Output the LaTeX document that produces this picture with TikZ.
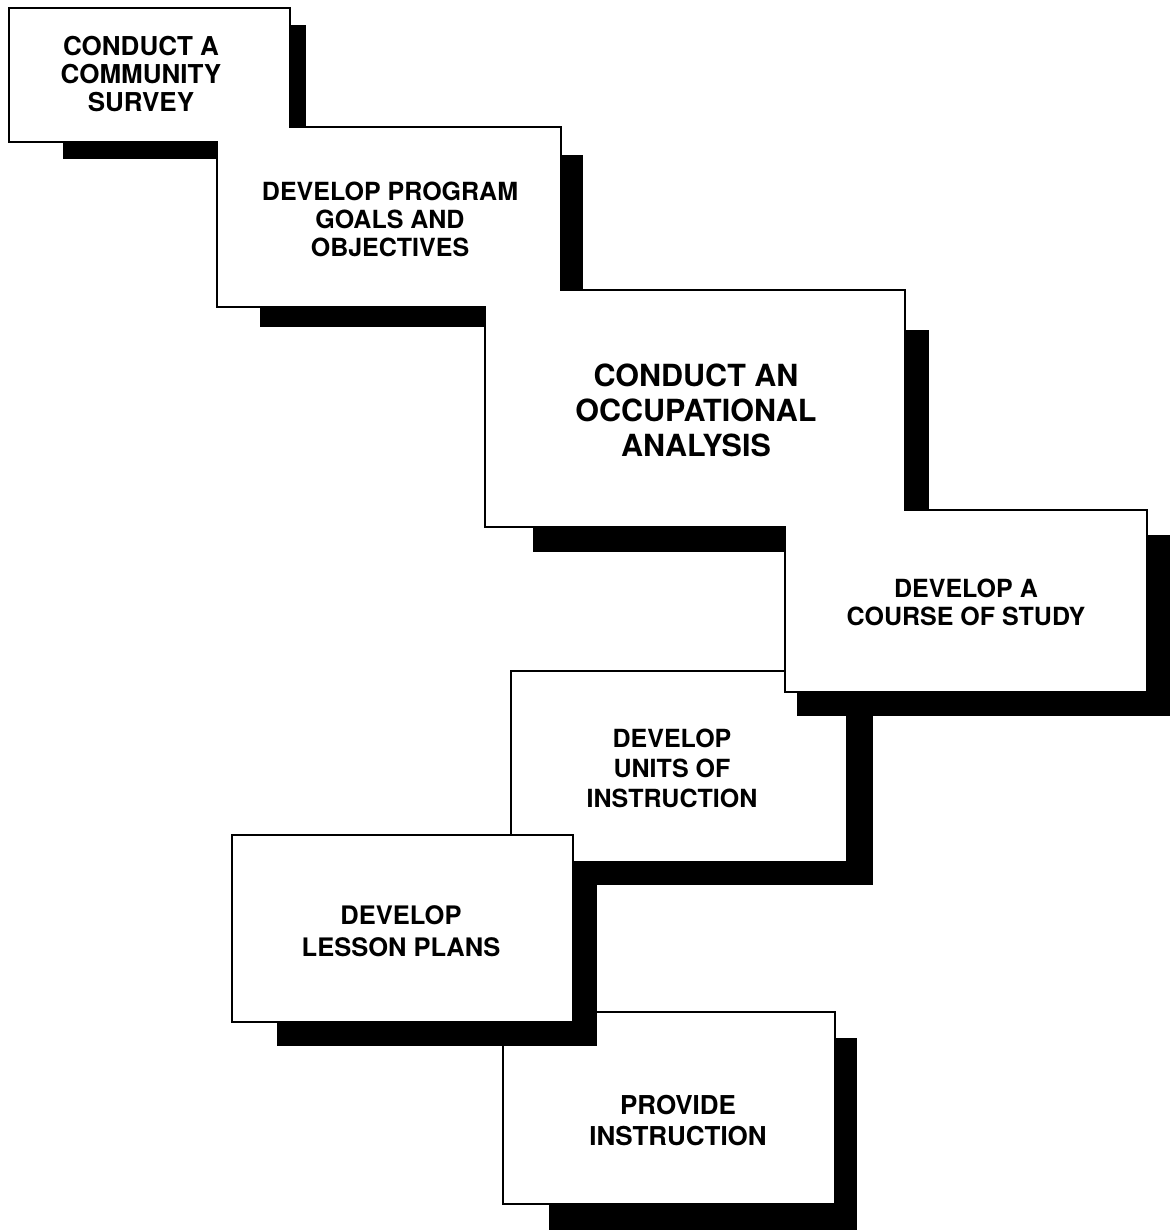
\documentclass[tikz,border=0pt]{standalone}
\usepackage{fontspec}
\setmainfont{TeX Gyre Heros}
\begin{document}
\begin{tikzpicture}[x=1pt,y=-1pt,
  boxshape/.style={rectangle, fill=white, outer sep=0pt, inner sep=0pt, line width=2.2pt},
  framed/.style={boxshape, draw=black},
  shadowfill/.style={fill=black},
  outline/.style={draw=black, line width=2.2pt, line join=miter},
  steptext/.style={align=center, inner sep=0pt, font=\bfseries\fontsize{#1}{#1}\selectfont},
]
\useasboundingbox (0,0) rectangle (1172,1232);

% lower boxes (drawn first, partly covered)
\fill[shadowfill] (549,1038) rectangle (857,1230);
\node[framed, minimum width=332pt, minimum height=192pt] (b7) at (669,1108) {};

\fill[shadowfill] (560,700) rectangle (873,885);
\node[framed, minimum width=336pt, minimum height=191pt] (b5) at (679,766.5) {};

\fill[shadowfill] (277,866) rectangle (597,1046);
\node[framed, minimum width=341pt, minimum height=187pt] (b6) at (402.5,928.5) {};

% shadows of the upper chain
\fill[shadowfill] (797,535) rectangle (1170,716);
\fill[shadowfill] (533,330) rectangle (929,552);
\fill[shadowfill] (260,155) rectangle (583,327);
\fill[shadowfill] (63,25) rectangle (306,159);

% upper chain of boxes, drawn as one outline
\node[boxshape, minimum width=362pt, minimum height=182pt] (b4) at (966,601) {};
\node[boxshape, minimum width=420pt, minimum height=237pt] (b3) at (695,408.5) {};
\node[boxshape, minimum width=344pt, minimum height=180pt] (b2) at (389,217) {};
\node[boxshape, minimum width=281pt, minimum height=134pt] (b1) at (149.5,75) {};

\draw[outline] (b1.north west) -- (b1.north east) -- (b1.east |- b2.north)
  -- (b2.north east) -- (b2.east |- b3.north)
  -- (b3.north east) -- (b3.east |- b4.north)
  -- (b4.north east) -- (b4.south east) -- (b4.south west)
  -- (b4.west |- b3.south) -- (b3.south west)
  -- (b3.west |- b2.south) -- (b2.south west)
  -- (b2.west |- b1.south) -- (b1.south west) -- cycle;

% texts
\node[steptext=26] (t1) at (141,74) {CONDUCT A\\[2pt]COMMUNITY\\[2pt]SURVEY};
\node[steptext=25] (t2) at (390,219.5) {DEVELOP PROGRAM\\[3pt]GOALS AND\\[3pt]OBJECTIVES};
\node[steptext=30.5] (t3) at (696,410) {CONDUCT AN\\[4.5pt]OCCUPATIONAL\\[4.5pt]ANALYSIS};
\node[steptext=25] (t4) at (966,602.5) {DEVELOP A\\[3pt]COURSE OF STUDY};
\node[steptext=25] (t5) at (672,768) {DEVELOP\\[5pt]UNITS OF\\[5pt]INSTRUCTION};
\node[steptext=25.5] (t6) at (401,931) {DEVELOP\\[6pt]LESSON PLANS};
\node[steptext=26] (t7) at (678,1121) {PROVIDE\\[5pt]INSTRUCTION};
\end{tikzpicture}
\end{document}
